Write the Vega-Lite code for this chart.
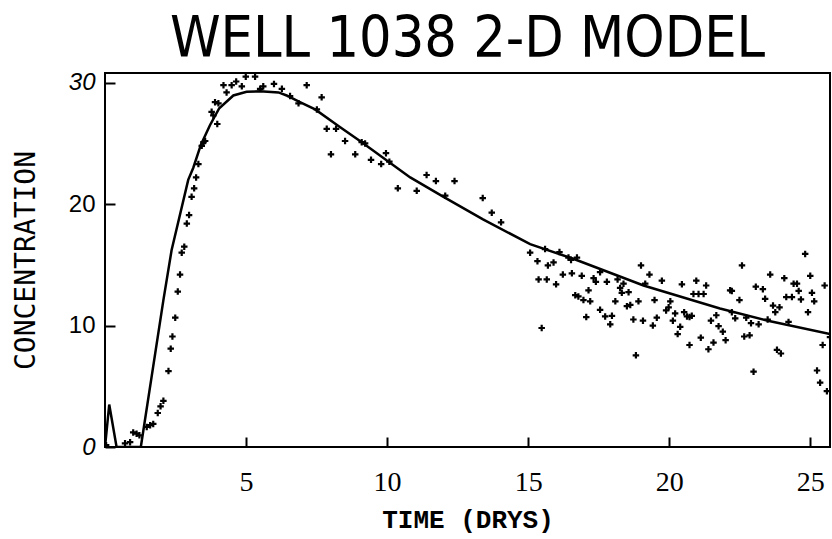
{
  "$schema": "https://vega.github.io/schema/vega-lite/v6.json",
  "autosize": "none",
  "padding": {"left": 105, "top": 73, "right": 2, "bottom": 92},
  "width": 725,
  "height": 374,
  "background": "white",
  "config": {"view": {"stroke": "black", "strokeWidth": 2}},
  "title": {
    "text": "WELL 1038 2-D MODEL",
    "font": "Liberation Sans Narrow, DejaVu Sans Condensed, Roboto Condensed, Liberation Sans",
    "fontSize": 57,
    "fontWeight": "normal",
    "color": "black",
    "anchor": "middle",
    "offset": 2
  },
  "datasets": {
    "model": [
      {"t": 0, "c": 0}, {"t": 0.15, "c": 3.5}, {"t": 0.41, "c": 0}, {"t": 1.27, "c": 0},
      {"t": 2.07, "c": 12.1}, {"t": 2.36, "c": 16.2}, {"t": 2.95, "c": 22.0}, {"t": 3.13, "c": 23.0},
      {"t": 3.4, "c": 24.9}, {"t": 3.72, "c": 26.5}, {"t": 4.05, "c": 27.9}, {"t": 4.55, "c": 28.95},
      {"t": 5.02, "c": 29.25}, {"t": 5.5, "c": 29.3}, {"t": 6.15, "c": 29.2}, {"t": 6.44, "c": 28.95},
      {"t": 6.91, "c": 28.4}, {"t": 7.45, "c": 27.8}, {"t": 8.3, "c": 26.4}, {"t": 9.04, "c": 25.2},
      {"t": 10.82, "c": 22.2}, {"t": 12.0, "c": 20.6}, {"t": 13.4, "c": 18.75}, {"t": 15.07, "c": 16.7},
      {"t": 16.6, "c": 15.5}, {"t": 19.09, "c": 13.3}, {"t": 21.8, "c": 11.4}, {"t": 23.5, "c": 10.4},
      {"t": 25.7, "c": 9.3}
    ],
    "obs": [
      {"t": 0.04, "c": 0.15}, {"t": 0.71, "c": 0.3}, {"t": 0.89, "c": 0.4}, {"t": 1.0, "c": 1.2},
      {"t": 1.12, "c": 1.1}, {"t": 1.22, "c": 0.96}, {"t": 1.48, "c": 1.65}, {"t": 1.6, "c": 1.8},
      {"t": 1.71, "c": 1.9}, {"t": 1.87, "c": 2.8}, {"t": 1.97, "c": 3.35}, {"t": 2.07, "c": 3.8},
      {"t": 2.25, "c": 6.25}, {"t": 2.33, "c": 8.1}, {"t": 2.39, "c": 9.1}, {"t": 2.49, "c": 10.65},
      {"t": 2.58, "c": 12.8}, {"t": 2.66, "c": 14.2}, {"t": 2.72, "c": 16.0}, {"t": 2.81, "c": 16.5},
      {"t": 2.9, "c": 18.4}, {"t": 2.98, "c": 19.1}, {"t": 3.07, "c": 20.6}, {"t": 3.16, "c": 21.3},
      {"t": 3.23, "c": 22.2}, {"t": 3.31, "c": 23.3}, {"t": 3.43, "c": 24.8}, {"t": 3.49, "c": 25.1},
      {"t": 3.55, "c": 25.2}, {"t": 3.78, "c": 27.6}, {"t": 3.84, "c": 27.3}, {"t": 3.98, "c": 26.6},
      {"t": 3.9, "c": 28.4}, {"t": 4.02, "c": 28.3}, {"t": 4.2, "c": 29.8}, {"t": 4.31, "c": 29.2},
      {"t": 4.49, "c": 29.8}, {"t": 4.65, "c": 30.1}, {"t": 4.85, "c": 29.7}, {"t": 4.99, "c": 30.5},
      {"t": 5.32, "c": 30.5}, {"t": 5.5, "c": 29.5}, {"t": 5.61, "c": 29.7}, {"t": 5.99, "c": 29.9},
      {"t": 6.27, "c": 29.5}, {"t": 6.56, "c": 28.9}, {"t": 6.86, "c": 28.3}, {"t": 7.15, "c": 29.8},
      {"t": 7.51, "c": 27.8}, {"t": 7.68, "c": 28.8}, {"t": 7.86, "c": 26.2}, {"t": 8.01, "c": 24.1},
      {"t": 8.19, "c": 26.2}, {"t": 8.51, "c": 25.2}, {"t": 8.87, "c": 24.1}, {"t": 9.1, "c": 25.1},
      {"t": 9.22, "c": 25.0}, {"t": 9.43, "c": 23.65}, {"t": 9.79, "c": 23.3}, {"t": 9.96, "c": 24.2},
      {"t": 10.08, "c": 23.5}, {"t": 10.38, "c": 21.3}, {"t": 11.05, "c": 21.1}, {"t": 11.4, "c": 22.4},
      {"t": 11.73, "c": 21.9}, {"t": 12.06, "c": 20.7}, {"t": 12.39, "c": 21.9}, {"t": 13.39, "c": 20.5},
      {"t": 13.71, "c": 19.3}, {"t": 14.04, "c": 18.5}, {"t": 15.07, "c": 16.0}, {"t": 15.33, "c": 15.3},
      {"t": 15.37, "c": 13.8}, {"t": 15.48, "c": 9.8}, {"t": 15.6, "c": 16.3}, {"t": 15.66, "c": 13.8},
      {"t": 15.7, "c": 14.95}, {"t": 15.9, "c": 15.2}, {"t": 15.99, "c": 13.4}, {"t": 16.11, "c": 16.05},
      {"t": 16.23, "c": 14.2}, {"t": 16.43, "c": 15.6}, {"t": 16.52, "c": 15.4}, {"t": 16.55, "c": 14.3},
      {"t": 16.67, "c": 12.5}, {"t": 16.73, "c": 15.6}, {"t": 16.78, "c": 12.4}, {"t": 16.9, "c": 14.1},
      {"t": 16.96, "c": 12.1}, {"t": 17.06, "c": 10.7}, {"t": 17.14, "c": 12.9}, {"t": 17.2, "c": 12.0},
      {"t": 17.32, "c": 13.9}, {"t": 17.4, "c": 13.6}, {"t": 17.55, "c": 14.4}, {"t": 17.55, "c": 11.3},
      {"t": 17.73, "c": 10.75}, {"t": 17.79, "c": 13.6}, {"t": 17.91, "c": 10.1}, {"t": 17.97, "c": 10.8},
      {"t": 18.09, "c": 12.0}, {"t": 18.17, "c": 13.8}, {"t": 18.26, "c": 13.1}, {"t": 18.32, "c": 12.7},
      {"t": 18.38, "c": 13.45}, {"t": 18.5, "c": 11.6}, {"t": 18.56, "c": 12.75}, {"t": 18.62, "c": 11.7},
      {"t": 18.73, "c": 10.5}, {"t": 18.82, "c": 7.55}, {"t": 18.91, "c": 12.0}, {"t": 19.0, "c": 14.95},
      {"t": 19.07, "c": 10.4}, {"t": 19.15, "c": 13.45}, {"t": 19.3, "c": 14.2}, {"t": 19.42, "c": 10.0},
      {"t": 19.48, "c": 12.1}, {"t": 19.56, "c": 10.65}, {"t": 19.74, "c": 13.7}, {"t": 19.89, "c": 11.25},
      {"t": 19.98, "c": 11.5}, {"t": 20.04, "c": 12.0}, {"t": 20.13, "c": 10.4}, {"t": 20.21, "c": 11.0},
      {"t": 20.3, "c": 9.3}, {"t": 20.39, "c": 9.9}, {"t": 20.45, "c": 13.4}, {"t": 20.53, "c": 11.1},
      {"t": 20.63, "c": 10.75}, {"t": 20.72, "c": 10.7}, {"t": 20.72, "c": 8.4}, {"t": 20.8, "c": 10.8},
      {"t": 20.86, "c": 12.6}, {"t": 20.96, "c": 13.7}, {"t": 21.04, "c": 12.6}, {"t": 21.12, "c": 9.0},
      {"t": 21.22, "c": 12.6}, {"t": 21.31, "c": 13.3}, {"t": 21.39, "c": 8.05}, {"t": 21.48, "c": 10.4},
      {"t": 21.57, "c": 8.6}, {"t": 21.67, "c": 10.85}, {"t": 21.75, "c": 9.95}, {"t": 21.9, "c": 9.5},
      {"t": 22.0, "c": 8.8}, {"t": 22.16, "c": 12.9}, {"t": 22.22, "c": 12.85}, {"t": 22.22, "c": 11.1},
      {"t": 22.34, "c": 10.6}, {"t": 22.49, "c": 12.1}, {"t": 22.58, "c": 14.95}, {"t": 22.66, "c": 9.1},
      {"t": 22.73, "c": 10.65}, {"t": 22.85, "c": 9.2}, {"t": 22.9, "c": 10.2}, {"t": 22.99, "c": 6.2},
      {"t": 23.07, "c": 13.2}, {"t": 23.17, "c": 10.1}, {"t": 23.32, "c": 13.0}, {"t": 23.4, "c": 12.2},
      {"t": 23.49, "c": 10.5}, {"t": 23.58, "c": 14.2}, {"t": 23.68, "c": 11.65}, {"t": 23.76, "c": 11.1},
      {"t": 23.82, "c": 8.0}, {"t": 23.91, "c": 11.5}, {"t": 23.96, "c": 7.7}, {"t": 24.08, "c": 13.9},
      {"t": 24.15, "c": 12.35}, {"t": 24.23, "c": 10.3}, {"t": 24.35, "c": 12.35}, {"t": 24.41, "c": 13.45},
      {"t": 24.53, "c": 13.45}, {"t": 24.59, "c": 12.85}, {"t": 24.67, "c": 12.15}, {"t": 24.82, "c": 15.9},
      {"t": 24.92, "c": 11.1}, {"t": 25.0, "c": 14.1}, {"t": 25.06, "c": 12.7}, {"t": 25.14, "c": 12.0},
      {"t": 25.24, "c": 6.3}, {"t": 25.35, "c": 5.3}, {"t": 25.44, "c": 8.4}, {"t": 25.51, "c": 13.3},
      {"t": 25.59, "c": 4.6}, {"t": 25.7, "c": 9.05}
    ]
  },
  "encoding": {
    "x": {
      "field": "t", "type": "quantitative",
      "scale": {"domain": [0, 25.7], "nice": false, "zero": false},
      "axis": {
        "title": "TIME (DRYS)",
        "titleFont": "Liberation Mono", "titleFontSize": 26, "titleFontWeight": "bold", "titleColor": "black",
        "titlePadding": 10,
        "values": [5, 10, 15, 20, 25],
        "labelFont": "Liberation Serif, DejaVu Serif, serif", "labelFontSize": 28, "labelColor": "black",
        "labelPadding": 31, "labelFlush": false, "labelOverlap": false,
        "tickSize": -10, "tickColor": "black", "tickWidth": 2,
        "domain": false, "grid": false
      }
    },
    "y": {
      "field": "c", "type": "quantitative",
      "scale": {"domain": [0, 30.8], "nice": false},
      "axis": {
        "title": "CONCENTRATION",
        "titleFont": "DejaVu Sans Mono", "titleFontSize": 28, "titleFontWeight": "normal", "titleColor": "black",
        "titlePadding": 28,
        "values": [0, 10, 20, 30],
        "labelFont": "Liberation Sans", "labelFontSize": 24, "labelColor": "black",
        "labelFontStyle": {"condition": {"test": "datum.value == 0 || datum.value == 30", "value": "italic"}, "value": "normal"},
        "labelPadding": 20, "labelFlush": false, "labelOverlap": false,
        "tickSize": -10, "tickColor": "black", "tickWidth": 2,
        "domain": false, "grid": false
      }
    }
  },
  "layer": [
    {
      "data": {"name": "model"},
      "mark": {"type": "line", "color": "black", "strokeWidth": 2.5, "clip": true}
    },
    {
      "data": {"name": "obs"},
      "mark": {"type": "point", "shape": "M-1,0L1,0M0,-1L0,1", "filled": false, "stroke": "black", "strokeWidth": 2.2, "size": 42, "opacity": 1, "clip": true}
    }
  ]
}
